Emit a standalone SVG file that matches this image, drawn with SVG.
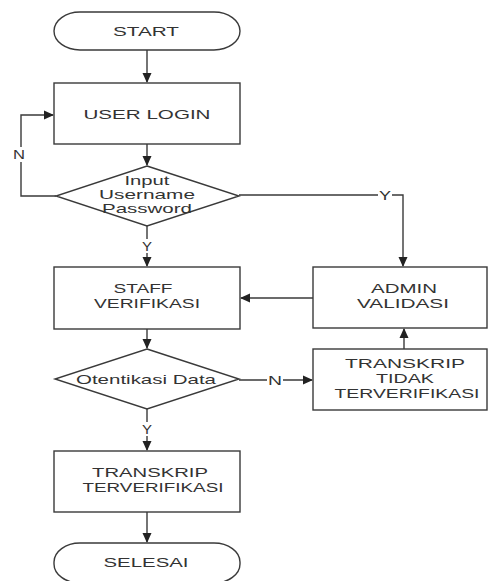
<svg xmlns="http://www.w3.org/2000/svg" width="488" height="581" viewBox="0 0 488 581">
<style>
.box{fill:#fff;stroke:#3a3a3a;stroke-width:1.4}
.t{font-family:"Liberation Sans",Arial,sans-serif;font-size:13px;fill:#333;text-anchor:middle}
.c{fill:none;stroke:#3a3a3a;stroke-width:1.4}
</style>
<defs>
<marker id="ah" markerWidth="10" markerHeight="10" refX="9" refY="5" orient="auto" markerUnits="userSpaceOnUse">
<path d="M0,0.5 L10,5 L0,9.5 Z" fill="#222"/>
</marker>
</defs>
<rect width="488" height="581" fill="#fff"/>
<g id="connectors">
<path class="c" d="M147,50 V82" marker-end="url(#ah)"/>
<path class="c" d="M147,144 V165" marker-end="url(#ah)"/>
<path class="c" d="M56,196 H21 V162 M21,147 V115 H53" marker-end="url(#ah)"/>
<text class="t" x="19" y="159" textLength="12" lengthAdjust="spacingAndGlyphs">N</text>
<path class="c" d="M147,226 V239 M147,253 V266" marker-end="url(#ah)"/>
<text class="t" x="147" y="251" textLength="10" lengthAdjust="spacingAndGlyphs">Y</text>
<path class="c" d="M239,195 H378 M392,195 H403 V266" marker-end="url(#ah)"/>
<text class="t" x="385" y="200" textLength="12" lengthAdjust="spacingAndGlyphs">Y</text>
<path class="c" d="M313,298 H241" marker-end="url(#ah)"/>
<path class="c" d="M147,329 V348" marker-end="url(#ah)"/>
<path class="c" d="M239,380 H267 M283,380 H312" marker-end="url(#ah)"/>
<text class="t" x="275" y="385" textLength="14" lengthAdjust="spacingAndGlyphs">N</text>
<path class="c" d="M404,349 V329" marker-end="url(#ah)"/>
<path class="c" d="M147,409 V422 M147,436 V450" marker-end="url(#ah)"/>
<text class="t" x="147" y="434" textLength="10" lengthAdjust="spacingAndGlyphs">Y</text>
<path class="c" d="M147,512 V542" marker-end="url(#ah)"/>
</g>
<g id="start">
<rect class="box" x="54" y="12" width="186" height="38" rx="26" ry="19"/>
<text class="t" x="146" y="36" textLength="66" lengthAdjust="spacingAndGlyphs">START</text>
</g>
<g id="user-login">
<rect class="box" x="54" y="83" width="186" height="61"/>
<text class="t" x="147" y="119" textLength="127" lengthAdjust="spacingAndGlyphs">USER LOGIN</text>
</g>
<g id="input-decision">
<polygon class="box" points="147,166 239,196 147,226 56,196"/>
<text class="t" x="147" y="185" textLength="45" lengthAdjust="spacingAndGlyphs">Input</text>
<text class="t" x="147" y="199" textLength="96" lengthAdjust="spacingAndGlyphs">Username</text>
<text class="t" x="147" y="213" textLength="90" lengthAdjust="spacingAndGlyphs">Password</text>
</g>
<g id="staff-verifikasi">
<rect class="box" x="54" y="267" width="186" height="62"/>
<text class="t" x="143" y="293" textLength="59" lengthAdjust="spacingAndGlyphs">STAFF</text>
<text class="t" x="147" y="308" textLength="106" lengthAdjust="spacingAndGlyphs">VERIFIKASI</text>
</g>
<g id="admin-validasi">
<rect class="box" x="313" y="267" width="174" height="61"/>
<text class="t" x="404" y="293" textLength="66" lengthAdjust="spacingAndGlyphs">ADMIN</text>
<text class="t" x="403" y="308" textLength="92" lengthAdjust="spacingAndGlyphs">VALIDASI</text>
</g>
<g id="otentikasi-decision">
<polygon class="box" points="147,349 239,379 147,409 55,379"/>
<text class="t" x="146" y="384" textLength="140" lengthAdjust="spacingAndGlyphs">Otentikasi Data</text>
</g>
<g id="transkrip-tidak">
<rect class="box" x="313" y="349" width="174" height="61"/>
<text class="t" x="405" y="368" textLength="120" lengthAdjust="spacingAndGlyphs">TRANSKRIP</text>
<text class="t" x="405" y="383" textLength="58" lengthAdjust="spacingAndGlyphs">TIDAK</text>
<text class="t" x="407" y="398" textLength="145" lengthAdjust="spacingAndGlyphs">TERVERIFIKASI</text>
</g>
<g id="transkrip-terverifikasi">
<rect class="box" x="54" y="451" width="186" height="61"/>
<text class="t" x="150" y="477" textLength="116" lengthAdjust="spacingAndGlyphs">TRANSKRIP</text>
<text class="t" x="153" y="492" textLength="141" lengthAdjust="spacingAndGlyphs">TERVERIFIKASI</text>
</g>
<g id="selesai">
<rect class="box" x="54" y="543" width="186" height="40" rx="26" ry="19"/>
<text class="t" x="146" y="567" textLength="85" lengthAdjust="spacingAndGlyphs">SELESAI</text>
</g>
</svg>
